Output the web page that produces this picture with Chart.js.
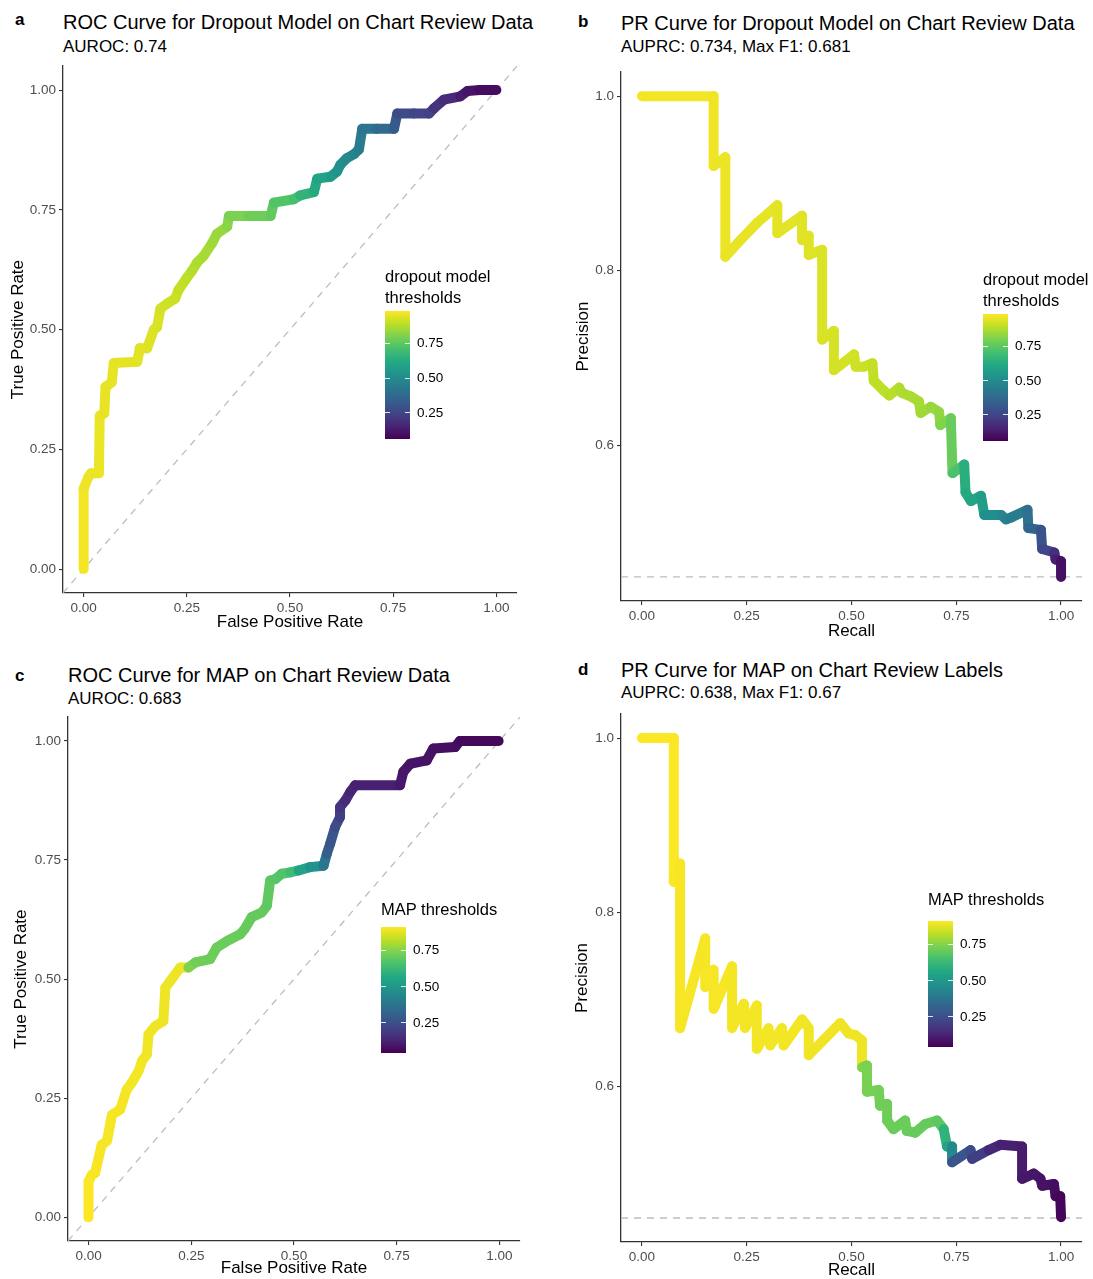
<!DOCTYPE html>
<html><head><meta charset="utf-8">
<script src="https://cdn.jsdelivr.net/npm/chart.js@4.4.1/dist/chart.umd.min.js"></script>
<style>
html,body{margin:0;padding:0;background:#fff;width:1093px;height:1279px;overflow:hidden;font-family:"Liberation Sans",Arial,sans-serif;}
.t{position:absolute;white-space:nowrap;color:#000;}
canvas{position:absolute;}
.bar{position:absolute;}
.tk{position:absolute;height:1px;background:rgba(255,255,255,0.85);}
</style></head><body>
<script>
// ---------- DATA ----------
const xTicks = [0, 0.25, 0.5, 0.75, 1];
const rocYTicks = [0, 0.25, 0.5, 0.75, 1];
const prYTicks = [0.6, 0.8, 1.0];
const legendTicks = [0.25, 0.5, 0.75];
const dropoutLimits = [0.06, 0.984];
const mapLimits = [0.044, 0.909];
const prDropBaseline = 0.449;
const prMapBaseline = 0.449;

// a: ROC dropout model
const rocDropFPR = [0,0,0.012,0.018,0.037,0.039,0.05,0.053,0.068,0.073,0.13,0.136,0.154,0.17,0.178,0.186,0.202,0.222,0.23,0.25,0.262,0.275,0.291,0.311,0.323,0.348,0.352,0.40,0.453,0.461,0.509,0.525,0.558,0.566,0.598,0.614,0.622,0.638,0.655,0.667,0.675,0.71,0.752,0.76,0.80,0.837,0.849,0.873,0.913,0.93,0.96,1.0];
const rocDropTPR = [0,0.168,0.193,0.2,0.2,0.32,0.325,0.38,0.39,0.43,0.433,0.461,0.461,0.5,0.505,0.544,0.554,0.565,0.583,0.608,0.622,0.64,0.654,0.68,0.70,0.715,0.737,0.737,0.737,0.765,0.772,0.78,0.787,0.815,0.819,0.83,0.844,0.858,0.866,0.876,0.919,0.919,0.919,0.951,0.951,0.951,0.962,0.98,0.987,0.998,1.0,1.0];
const rocDropThr = [0.97,0.965,0.96,0.958,0.956,0.955,0.953,0.952,0.95,0.948,0.945,0.942,0.94,0.935,0.93,0.92,0.915,0.91,0.9,0.89,0.88,0.87,0.86,0.85,0.84,0.82,0.80,0.78,0.76,0.73,0.71,0.66,0.62,0.59,0.56,0.53,0.51,0.49,0.47,0.44,0.42,0.38,0.32,0.27,0.25,0.235,0.2,0.17,0.13,0.11,0.09,0.06];

// b: PR dropout model
const prDropRecall = [0,0.171,0.171,0.199,0.199,0.235,0.275,0.323,0.323,0.382,0.382,0.398,0.398,0.43,0.43,0.458,0.458,0.506,0.51,0.53,0.55,0.553,0.578,0.59,0.614,0.62,0.641,0.661,0.665,0.689,0.709,0.712,0.737,0.741,0.769,0.772,0.785,0.809,0.817,0.857,0.869,0.88,0.92,0.922,0.952,0.955,0.984,0.987,1.0,1.0];
const prDropPrecision = [1.0,1.0,0.92,0.93,0.816,0.835,0.855,0.875,0.843,0.863,0.835,0.84,0.818,0.824,0.721,0.731,0.686,0.704,0.69,0.69,0.694,0.674,0.662,0.657,0.666,0.66,0.656,0.65,0.637,0.644,0.638,0.623,0.631,0.568,0.578,0.546,0.536,0.542,0.52,0.52,0.515,0.517,0.526,0.505,0.503,0.481,0.477,0.469,0.467,0.449];
const prDropThr = [0.97,0.965,0.96,0.958,0.955,0.953,0.95,0.948,0.946,0.944,0.942,0.94,0.938,0.935,0.93,0.928,0.925,0.92,0.915,0.91,0.9,0.895,0.89,0.885,0.875,0.87,0.865,0.86,0.855,0.84,0.83,0.81,0.77,0.72,0.64,0.62,0.6,0.57,0.52,0.48,0.46,0.44,0.4,0.36,0.3,0.25,0.18,0.14,0.1,0.06];

// c: ROC MAP
const rocMapFPR = [0,0,0.008,0.016,0.032,0.045,0.057,0.077,0.093,0.105,0.122,0.13,0.142,0.146,0.162,0.182,0.187,0.199,0.211,0.223,0.243,0.26,0.296,0.312,0.337,0.369,0.38,0.397,0.422,0.434,0.442,0.455,0.47,0.491,0.511,0.539,0.572,0.58,0.588,0.6,0.612,0.612,0.625,0.637,0.649,0.758,0.766,0.783,0.823,0.839,0.892,0.904,0.998];
const rocMapTPR = [0,0.075,0.089,0.093,0.152,0.16,0.215,0.226,0.268,0.282,0.307,0.328,0.342,0.384,0.401,0.412,0.482,0.496,0.51,0.524,0.524,0.535,0.542,0.566,0.58,0.594,0.605,0.63,0.64,0.654,0.707,0.71,0.721,0.724,0.728,0.735,0.738,0.763,0.784,0.819,0.84,0.861,0.875,0.893,0.907,0.907,0.935,0.952,0.959,0.984,0.987,1.0,1.0];
const rocMapThr = [0.909,0.905,0.903,0.902,0.9,0.9,0.899,0.898,0.897,0.896,0.895,0.894,0.893,0.892,0.891,0.89,0.889,0.888,0.887,0.886,0.74,0.72,0.715,0.71,0.71,0.705,0.705,0.7,0.7,0.695,0.69,0.68,0.67,0.64,0.54,0.48,0.38,0.3,0.27,0.24,0.2,0.17,0.15,0.13,0.12,0.1,0.095,0.09,0.085,0.08,0.075,0.065,0.044];

// d: PR MAP
const prMapRecall = [0,0.076,0.076,0.091,0.091,0.151,0.151,0.171,0.171,0.215,0.215,0.243,0.246,0.274,0.274,0.302,0.306,0.334,0.338,0.382,0.398,0.398,0.473,0.493,0.509,0.525,0.525,0.537,0.537,0.565,0.568,0.585,0.585,0.6,0.628,0.632,0.652,0.676,0.704,0.72,0.728,0.74,0.74,0.784,0.788,0.827,0.855,0.907,0.907,0.935,0.951,0.955,0.983,0.987,0.998,1.0];
const prMapPrecision = [1.0,1.0,0.835,0.856,0.667,0.77,0.714,0.734,0.689,0.738,0.667,0.695,0.667,0.693,0.643,0.667,0.647,0.667,0.647,0.677,0.667,0.636,0.673,0.661,0.659,0.653,0.622,0.624,0.594,0.596,0.578,0.58,0.561,0.551,0.561,0.549,0.547,0.557,0.561,0.551,0.531,0.531,0.513,0.527,0.517,0.527,0.533,0.531,0.494,0.5,0.494,0.486,0.488,0.474,0.474,0.45];
const prMapThr = [0.909,0.905,0.903,0.902,0.901,0.9,0.9,0.899,0.899,0.898,0.898,0.897,0.897,0.896,0.896,0.895,0.895,0.894,0.894,0.893,0.893,0.892,0.891,0.89,0.889,0.888,0.74,0.735,0.73,0.725,0.72,0.718,0.715,0.712,0.71,0.708,0.705,0.7,0.69,0.6,0.54,0.45,0.27,0.24,0.2,0.14,0.12,0.11,0.1,0.095,0.09,0.085,0.075,0.065,0.055,0.044];

// ---------- HELPERS ----------
const FONT = '"Liberation Sans", Arial, sans-serif';
Chart.defaults.font.family = FONT;
const VIR = ['#440154','#482475','#414487','#355f8d','#2a788e','#21918c','#22a884','#44bf70','#7ad151','#bddf26','#fde725'];
function hex(h){return [parseInt(h.slice(1,3),16),parseInt(h.slice(3,5),16),parseInt(h.slice(5,7),16)];}
function vir(t){
  t = Math.max(0, Math.min(1, t));
  const p = t * 10, i = Math.min(9, Math.floor(p)), f = p - i;
  const a = hex(VIR[i]), b = hex(VIR[i+1]);
  return 'rgb(' + a.map((v,k)=>Math.round(v + (b[k]-v)*f)).join(',') + ')';
}
function txt(s, left, cy, size, lh, extra){
  const d = document.createElement('div');
  d.className = 't';
  d.style.left = left + 'px';
  d.style.top = (cy - lh/2) + 'px';
  d.style.fontSize = size + 'px';
  d.style.lineHeight = lh + 'px';
  if (extra) Object.assign(d.style, extra);
  d.innerHTML = s;
  document.body.appendChild(d);
  return d;
}
function colorbar(title, titleLeft, titleCy, titleLh, barL, barT, barW, barH, lim){
  txt(title, titleLeft, titleCy, 16.5, titleLh);
  const b = document.createElement('div');
  b.className = 'bar';
  Object.assign(b.style, {left: barL+'px', top: barT+'px', width: barW+'px', height: barH+'px',
    background: 'linear-gradient(to top,' + VIR.join(',') + ')'});
  document.body.appendChild(b);
  legendTicks.forEach(v => {
    const y = barT + (lim[1] - v) / (lim[1] - lim[0]) * barH;
    [barL, barL + barW - 5].forEach(x => {
      const t = document.createElement('div'); t.className = 'tk';
      Object.assign(t.style, {left: x+'px', top: (y-0.5)+'px', width: '5px'});
      document.body.appendChild(t);
    });
    txt(v.toFixed(2), barL + barW + 7, y, 13.5, 16);
  });
}
function panel(p){
  const c = document.createElement('canvas');
  c.width = p.cw; c.height = p.ch;
  c.style.left = p.cl + 'px'; c.style.top = p.ct + 'px';
  c.style.width = p.cw + 'px'; c.style.height = p.ch + 'px';
  document.body.appendChild(c);
  const pts = p.xs.map((x,i)=>({x:x, y:p.ys[i]}));
  const norm = v => (v - p.lim[0]) / (p.lim[1] - p.lim[0]);
  const axisCommon = (ticksArr, dec, titleText, tpad, fit) => ({
    type: 'linear',
    afterBuildTicks: s => { s.ticks = ticksArr.map(v => ({value: v})); },
    ticks: {callback: v => Number(v).toFixed(dec), color: '#4d4d4d', font: {size: 13.5, family: FONT}, padding: 3, maxRotation: 0, autoSkip: false},
    grid: {drawOnChartArea: false, drawTicks: true, tickLength: 4, color: '#333333', lineWidth: 1.1},
    border: {display: true, color: '#333333', width: 1.3},
    title: {display: true, text: titleText, color: '#000', font: {size: 17, family: FONT, lineHeight: 1}, padding: {top: tpad, bottom: tpad}},
    afterFit: fit
  });
  const xs = axisCommon(xTicks, 2, p.xTitle, p.xtp, s => { s.height = p.hx; });
  xs.min = p.xmin; xs.max = p.xmax;
  const ys = axisCommon(p.yTicks, p.yDec, p.yTitle, p.ytp, s => { s.width = p.wy; });
  ys.min = p.ymin; ys.max = p.ymax;
  new Chart(c, {
    type: 'line',
    data: {datasets: [
      {data: pts, borderWidth: 10, borderCapStyle: 'round', borderJoinStyle: 'round', pointRadius: 0, tension: 0,
       borderColor: vir(norm(p.thr[0])), segment: {borderColor: ctx => vir(norm(p.thr[ctx.p0DataIndex]))}, order: 0, clip: 8},
      {data: p.ref, borderColor: '#bdbdbd', borderWidth: 1.3, borderDash: [7, 6], pointRadius: 0, tension: 0, order: 1}
    ]},
    options: {
      responsive: false, animation: false, devicePixelRatio: 1,
      layout: {padding: {left: 0, top: p.pt, right: p.pr, bottom: 0}},
      plugins: {legend: {display: false}, tooltip: {enabled: false}},
      scales: {x: xs, y: ys}
    }
  });
}
function prRange(prec, base){
  const lo = Math.min(base, ...prec), hi = Math.max(...prec);
  const e = 0.05 * (hi - lo);
  return [lo - e, hi + e];
}

// ---------- TEXT ----------
txt('a', 15, 20, 17, 20, {fontWeight: 'bold'});
txt('ROC Curve for Dropout Model on Chart Review Data', 63, 22, 20, 24);
txt('AUROC: 0.74', 63, 47, 17, 20);
txt('b', 578, 22, 17, 20, {fontWeight: 'bold'});
txt('PR Curve for Dropout Model on Chart Review Data', 621, 23, 20, 24);
txt('AUPRC: 0.734, Max F1: 0.681', 621, 47, 17, 20);
txt('c', 15, 676, 17, 20, {fontWeight: 'bold'});
txt('ROC Curve for MAP on Chart Review Data', 68, 675, 20, 24);
txt('AUROC: 0.683', 68, 699, 17, 20);
txt('d', 578, 670, 17, 20, {fontWeight: 'bold'});
txt('PR Curve for MAP on Chart Review Labels', 621, 670, 20, 24);
txt('AUPRC: 0.638, Max F1: 0.67', 621, 693, 17, 20);

// ---------- CHARTS ----------
const bRange = prRange(prDropPrecision, prDropBaseline);
const dRange = prRange(prMapPrecision, prMapBaseline);

panel({cl: 0, ct: 55, cw: 540, ch: 583, pt: 10, pr: 23, wy: 63, hx: 45,
  xs: rocDropFPR, ys: rocDropTPR, thr: rocDropThr, lim: dropoutLimits,
  xmin: -0.05, xmax: 1.05, ymin: -0.05, ymax: 1.05, yTicks: rocYTicks, yDec: 2,
  xTitle: 'False Positive Rate', yTitle: 'True Positive Rate', xtp: 7.5, ytp: 9.5,
  ref: [{x: -0.05, y: -0.05}, {x: 1.05, y: 1.05}]});

panel({cl: 560, ct: 61, cw: 533, ch: 585, pt: 10, pr: 11, wy: 61, hx: 45,
  xs: prDropRecall, ys: prDropPrecision, thr: prDropThr, lim: dropoutLimits,
  xmin: -0.05, xmax: 1.05, ymin: bRange[0], ymax: bRange[1], yTicks: prYTicks, yDec: 1,
  xTitle: 'Recall', yTitle: 'Precision', xtp: 6.5, ytp: 14.5,
  ref: [{x: -0.05, y: prDropBaseline}, {x: 1.05, y: prDropBaseline}]});

panel({cl: 0, ct: 706, cw: 540, ch: 573, pt: 10, pr: 20, wy: 68, hx: 38,
  xs: rocMapFPR, ys: rocMapTPR, thr: rocMapThr, lim: mapLimits,
  xmin: -0.05, xmax: 1.05, ymin: -0.05, ymax: 1.05, yTicks: rocYTicks, yDec: 2,
  xTitle: 'False Positive Rate', yTitle: 'True Positive Rate', xtp: 2.5, ytp: 12.5,
  ref: [{x: -0.05, y: -0.05}, {x: 1.05, y: 1.05}]});

panel({cl: 560, ct: 703, cw: 533, ch: 576, pt: 10, pr: 11, wy: 61, hx: 37,
  xs: prMapRecall, ys: prMapPrecision, thr: prMapThr, lim: mapLimits,
  xmin: -0.05, xmax: 1.05, ymin: dRange[0], ymax: dRange[1], yTicks: prYTicks, yDec: 1,
  xTitle: 'Recall', yTitle: 'Precision', xtp: 0, ytp: 13.5,
  ref: [{x: -0.05, y: prMapBaseline}, {x: 1.05, y: prMapBaseline}]});

// ---------- LEGENDS ----------
colorbar('dropout model<br>thresholds', 385, 276, 21, 385, 311, 25, 128, dropoutLimits);
colorbar('dropout model<br>thresholds', 983, 279, 21, 983, 314, 25, 127, dropoutLimits);
colorbar('MAP thresholds', 381, 909, 20, 381, 927, 25, 126, mapLimits);
colorbar('MAP thresholds', 928, 899, 20, 928, 921, 25, 126, mapLimits);
</script>
</body></html>
